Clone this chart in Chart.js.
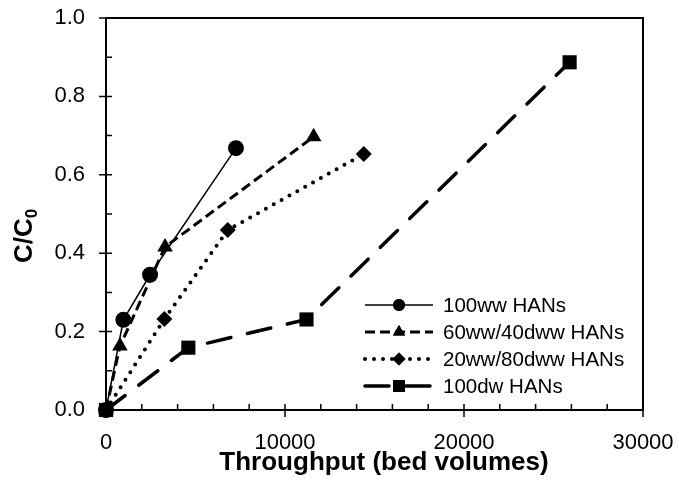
<!DOCTYPE html>
<html>
<head>
<meta charset="utf-8">
<script src="https://cdn.jsdelivr.net/npm/chart.js@4/dist/chart.umd.min.js"></script>
<style>
  html, body { margin: 0; padding: 0; background: #fff; }
  #wrap { width: 679px; height: 480px; }
</style>
</head>
<body>
<div id="wrap"><canvas id="chart"></canvas></div>
<script>
const FONT = "Arial, 'Liberation Sans', sans-serif";

// breakthrough data: throughput (bed volumes) vs C/C0
const seriesNames = ["100ww HANs", "60ww/40dww HANs", "20ww/80dww HANs", "100dw HANs"];

const bv100ww = [0, 970, 2460, 7260];
const cc100ww = [0, 0.23, 0.345, 0.668];

const bv60ww = [0, 780, 3300, 11600];
const cc60ww = [0, 0.163, 0.416, 0.697];

const bv20ww = [0, 3260, 6800, 14400];
const cc20ww = [0, 0.232, 0.459, 0.653];

const bv100dw = [0, 4600, 11200, 25900];
const cc100dw = [0, 0.159, 0.231, 0.887];

const xTicks = [0, 10000, 20000, 30000];
const yTicks = [0, 0.2, 0.4, 0.6, 0.8, 1.0];

function pts(xs, ys) {
  return xs.map((x, i) => ({ x: x, y: ys[i] }));
}

const styles = [
  { width: 1.5, dash: [], cap: 'butt', point: 'circle', r: 8, lr: 6 },
  { width: 3, dash: [10, 5], cap: 'butt', point: 'triangle', r: 9, lr: 7 },
  { width: 4, dash: [0, 9], cap: 'round', point: 'rectRot', r: 8, lr: 6.5 },
  { width: 3.5, dash: [24, 17], cap: 'round', point: 'rect', r: 10, lr: 8.5 }
];

const allData = [pts(bv100ww, cc100ww), pts(bv60ww, cc60ww), pts(bv20ww, cc20ww), pts(bv100dw, cc100dw)];

const datasets = allData.map((d, i) => ({
  label: seriesNames[i],
  data: d,
  borderColor: '#000',
  backgroundColor: '#000',
  borderWidth: styles[i].width,
  borderDash: styles[i].dash,
  borderCapStyle: styles[i].cap,
  pointStyle: styles[i].point,
  pointRadius: styles[i].r,
  pointBorderWidth: 0,
  pointBackgroundColor: '#000',
  showLine: true,
  tension: 0,
  clip: false
}));

// frame, tick marks, axis titles and legend
const decor = {
  id: 'decor',
  afterDraw(chart) {
    const c = chart.ctx;
    const a = chart.chartArea;
    const xs = chart.scales.x, ys = chart.scales.y;
    c.save();
    c.strokeStyle = '#000';
    c.lineWidth = 2;
    c.strokeRect(a.left, a.top, a.right - a.left, a.bottom - a.top);

    c.lineWidth = 1.5;
    c.beginPath();
    for (let v = 0; v <= 30000; v += 2000) {
      const px = xs.getPixelForValue(v);
      const major = v % 10000 === 0;
      c.moveTo(px, a.bottom - 6);
      c.lineTo(px, major ? a.bottom + 7 : a.bottom);
    }
    for (let k = 0; k <= 10; k++) {
      const py = ys.getPixelForValue(k / 10);
      const major = k % 2 === 0;
      c.moveTo(a.left + 6, py);
      c.lineTo(major ? a.left - 7 : a.left, py);
    }
    c.stroke();

    // x title
    c.fillStyle = '#000';
    c.font = 'bold 26px ' + FONT;
    c.textAlign = 'center';
    c.textBaseline = 'alphabetic';
    c.fillText('Throughput (bed volumes)', 384, 470);

    // y title with subscript
    c.save();
    c.translate(32, 263);
    c.rotate(-Math.PI / 2);
    c.textAlign = 'left';
    c.font = 'bold 26px ' + FONT;
    c.fillText('C/C', 0, 0);
    const w = c.measureText('C/C').width;
    c.font = 'bold 17px ' + FONT;
    c.fillText('0', w, 5);
    c.restore();

    // legend: line sample with marker, then label
    const lx0 = a.left + 259, lx1 = a.left + 327, mx = a.left + 293;
    c.font = '20.5px ' + FONT;
    c.textAlign = 'left';
    c.textBaseline = 'middle';
    chart.data.datasets.forEach((ds, i) => {
      const y = 305 + 27 * i;
      c.lineWidth = ds.borderWidth;
      c.setLineDash(ds.borderDash);
      c.lineCap = ds.borderCapStyle;
      c.beginPath();
      c.moveTo(lx0, y);
      c.lineTo(lx1, y);
      c.stroke();
      c.setLineDash([]);
      Chart.helpers.drawPoint(c, { pointStyle: ds.pointStyle, radius: styles[i].lr, borderWidth: 0, rotation: 0 }, mx, y);
      c.fill();
      c.fillText(ds.label, a.left + 337, y + 1);
    });
    c.restore();
  }
};

new Chart(document.getElementById('chart'), {
  type: 'scatter',
  data: { datasets: datasets },
  options: {
    responsive: true,
    maintainAspectRatio: false,
    animation: false,
    layout: { padding: { top: 18, right: 36, left: 0, bottom: 0 } },
    plugins: { legend: { display: false }, tooltip: { enabled: false } },
    scales: {
      x: {
        type: 'linear',
        min: 0, max: 30000,
        afterBuildTicks: s => { s.ticks = xTicks.map(v => ({ value: v })); },
        afterFit: s => { s.height = 70; s.paddingLeft = 0; s.paddingRight = 0; },
        grid: { display: false, drawTicks: false },
        border: { display: false },
        ticks: { color: '#000', padding: 20, maxRotation: 0, font: { family: FONT, size: 22 }, callback: v => String(v) }
      },
      y: {
        type: 'linear',
        min: 0, max: 1,
        afterBuildTicks: s => { s.ticks = yTicks.map(v => ({ value: v })); },
        afterFit: s => { s.width = 106; s.paddingTop = 0; s.paddingBottom = 0; },
        grid: { display: false, drawTicks: false },
        border: { display: false },
        ticks: { color: '#000', padding: 21, font: { family: FONT, size: 22 }, callback: v => v.toFixed(1) }
      }
    }
  },
  plugins: [decor]
});
</script>
</body>
</html>
